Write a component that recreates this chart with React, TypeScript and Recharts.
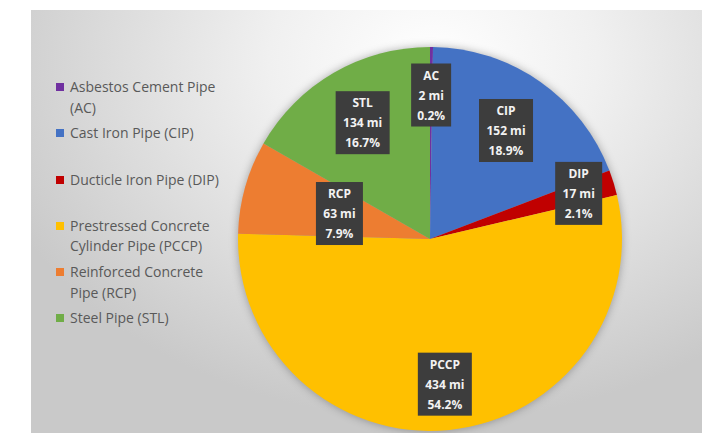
import React from "react";
import { PieChart, Pie, Cell, Legend } from "recharts";

const codes = ["AC", "CIP", "DIP", "PCCP", "RCP", "STL"];
const names = [
  "Asbestos Cement Pipe (AC)",
  "Cast Iron Pipe (CIP)",
  "Ducticle Iron Pipe (DIP)",
  "Prestressed Concrete Cylinder Pipe (PCCP)",
  "Reinforced Concrete Pipe (RCP)",
  "Steel Pipe (STL)",
];
const miles = [2, 152, 17, 434, 63, 134];
const shares = [0.2, 18.9, 2.1, 54.2, 7.9, 16.7];
const colors = ["#7030A0", "#4472C4", "#C00000", "#FFC000", "#ED7D31", "#70AD47"];

const data = codes.map((c, i) => ({ code: c, name: names[i], value: miles[i], share: shares[i] }));

// label placement (fraction of outer radius) per slice
const labelRadius = [0.75, 0.69, 0.81, 0.76, 0.49, 0.7];
const RAD = Math.PI / 180;
const LEGEND_W = 180;

const renderLabel = (props: any) => {
  const { cx, cy, midAngle, outerRadius, index } = props;
  const d = data[index];
  const r = outerRadius * labelRadius[index];
  const x = cx + r * Math.cos(-midAngle * RAD);
  const y = cy + r * Math.sin(-midAngle * RAD);
  const lines = [d.code, `${d.value} mi`, `${d.share}%`];
  const maxLen = Math.max(...lines.map((l) => l.length));
  const w = maxLen * 7 + 12;
  const h = 63;
  return (
    <g key={`lbl-${index}`}>
      <rect x={x - w / 2} y={y - h / 2} width={w} height={h} fill="#3d3d3d" />
      {lines.map((l, k) => (
        <text
          key={k}
          x={x}
          y={y + (k - 1) * 20}
          textAnchor="middle"
          dominantBaseline="central"
          fill="#f2f2f2"
          fontSize={12}
          fontWeight="bold"
          fontFamily="'Open Sans', sans-serif"
        >
          {l}
        </text>
      ))}
    </g>
  );
};

const renderLegend = () => (
  <div style={{ fontFamily: "'Open Sans', sans-serif", fontSize: 14, color: "#595959" }}>
    {data.map((d, i) => (
      <div
        key={d.code}
        style={{ position: "relative", height: 46.3, paddingLeft: 14, width: 160, lineHeight: "20.5px" }}
      >
        <span
          style={{
            position: "absolute",
            left: 0,
            top: 6,
            width: 8,
            height: 8,
            background: colors[i],
          }}
        />
        {d.name}
      </div>
    ))}
  </div>
);

export default function App() {
  return (
    <div style={{ position: "absolute", left: 0, top: 0, width: 710, height: 433, background: "#ffffff" }}>
      <style>{`.recharts-pie { filter: drop-shadow(0 0 4px rgba(0,0,0,0.3)); }`}</style>
      <div
        style={{
          position: "absolute",
          left: 31,
          top: 10,
          width: 671,
          height: 423,
          background:
            "radial-gradient(ellipse 70% 85% at 60% 12%, #ffffff 0%, #f0f0f0 35%, #d8d8d8 75%, #c9c9c9 100%)",
        }}
      />
      <div style={{ position: "absolute", left: 0, top: 0 }}>
        <PieChart width={710} height={433}>
          <Legend
            layout="vertical"
            align="left"
            verticalAlign="top"
            wrapperStyle={{ left: 56, top: 77, width: LEGEND_W }}
            content={renderLegend}
          />
          <Pie
            data={data}
            dataKey="value"
            nameKey="name"
            cx={430 - LEGEND_W - 5}
            cy={234}
            outerRadius={192}
            startAngle={90}
            endAngle={-270}
            stroke="none"
            label={renderLabel}
            labelLine={false}
            isAnimationActive={false}
          >
            {data.map((d, i) => (
              <Cell key={d.code} fill={colors[i]} />
            ))}
          </Pie>
        </PieChart>
      </div>
    </div>
  );
}
